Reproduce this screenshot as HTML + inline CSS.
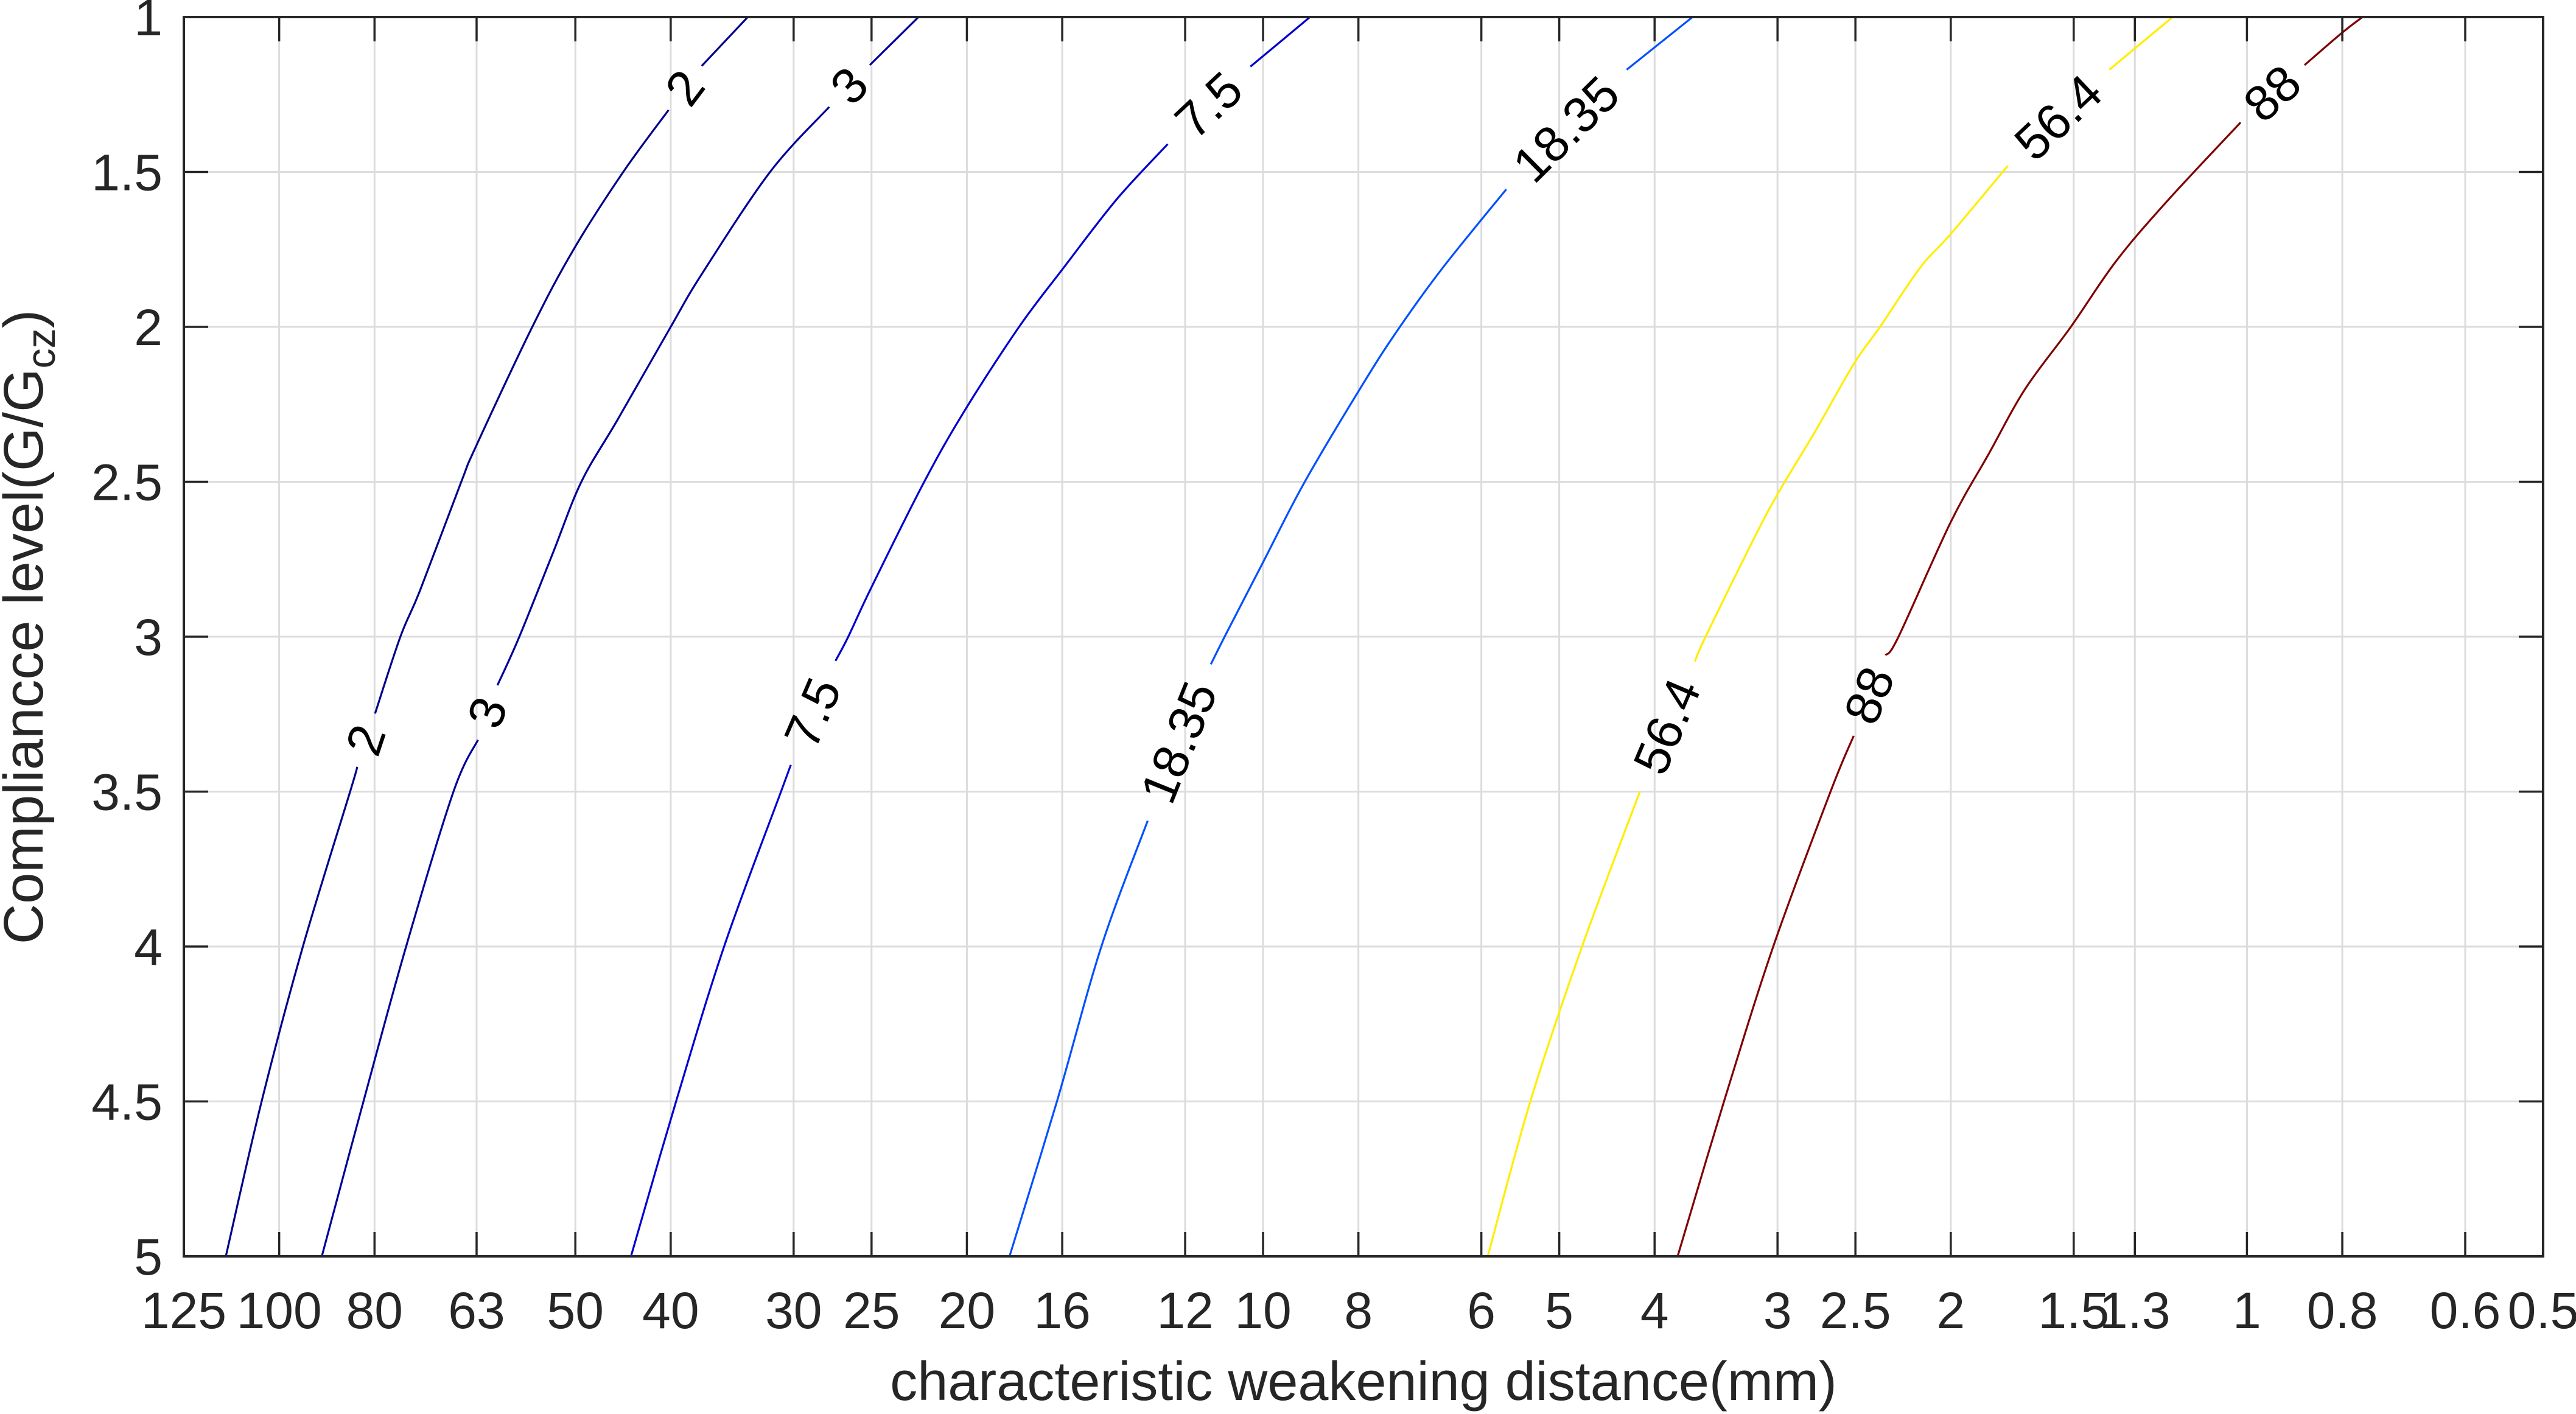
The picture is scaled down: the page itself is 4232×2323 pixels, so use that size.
<!DOCTYPE html>
<html><head><meta charset="utf-8">
<style>
html,body{margin:0;padding:0;background:#fff;}
svg{display:block;}
text{font-family:"Liberation Sans",Arial,sans-serif;fill:#262626;}
</style></head>
<body>
<svg id="chart" width="4232" height="2323" viewBox="0 0 4232 2323" xmlns="http://www.w3.org/2000/svg">
<rect x="0" y="0" width="4232" height="2323" fill="#fff"/>
<g id="grid"></g>
<g id="curves"></g>
<g id="labels"></g>
<g id="axes"></g>
<text x="2240" y="2300" font-size="90" text-anchor="middle">characteristic weakening distance(mm)</text>
<text transform="translate(70,1030) rotate(-90)" font-size="92" text-anchor="middle">Compliancce level(G/G<tspan font-size="66" dy="20">cz</tspan><tspan dy="-20">)</tspan></text>
</svg>
<script>
const xTicks = [125,100,80,63,50,40,30,25,20,16,12,10,8,6,5,4,3,2.5,2,1.5,1.3,1,0.8,0.6,0.5];
const xTickLabels = ["125","100","80","63","50","40","30","25","20","16","12","10","8","6","5","4","3","2.5","2","1.5","1.3","1","0.8","0.6","0.5"];
const yTicks = [1,1.5,2,2.5,3,3.5,4,4.5,5];
const yTickLabels = ["1","1.5","2","2.5","3","3.5","4","4.5","5"];
const levels = ["2","3","7.5","18.35","56.4","88"];
const levelColors = ["#00008a","#000099","#0000d0","#0050ff","#ffee00","#800000"];
// each curve: [G/Gcz, distance mm]; null = label gap
const curve2 = [[1,33.4],[1.158,37.2],null,[1.30,40.2],[1.5,44.7],[1.75,50.2],[2,55.3],[2.386,63.1],[2.5,65.3],[2.85,71.9],[3,75.3],[3.248,79.9],null,[3.42,83.3],[3.5,84.7],[4,94.6],[4.5,104.2],[5,113.3]];
const curve3 = [[1,22.4],[1.155,25.1],null,[1.29,27.6],[1.5,31.7],[1.83,37.2],[2,40.0],[2.30,45.3],[2.5,49.3],[2.73,52.7],[3,57.0],[3.157,60.0],null,[3.333,62.8],[3.5,66.5],[4,74.3],[4.5,82.1],[5,90.5]];
const curve7 = [[1,8.96],[1.16,10.3],null,[1.41,12.5],[1.59,14.1],[1.815,16.0],[2,17.7],[2.27,20.1],[2.5,22.1],[2.84,25.0],[3,26.4],[3.078,27.2],null,[3.414,30.2],[3.5,30.9],[4,35.3],[4.5,39.5],[5,43.9]];
const curve18 = [[1,3.66],[1.17,4.27],null,[1.556,5.66],[1.81,6.57],[2,7.26],[2.18,7.90],[2.5,9.07],[2.76,10.0],[2.99,10.9],[3.089,11.3],null,[3.594,13.1],[4,14.6],[4.5,16.2],[5,18.1]];
const curve56 = [[1,1.19],[1.17,1.38],null,[1.48,1.75],[1.70,2.00],[1.81,2.15],[2,2.36],[2.12,2.51],[2.34,2.75],[2.54,3.00],[2.70,3.19],[3,3.55],[3.08,3.64],null,[3.5,4.14],[4,4.74],[4.5,5.35],[5,5.91]];
const curve88 = [[1,0.763],[1.05,0.80],[1.155,0.874],null,[1.34,1.015],[1.60,1.21],[1.79,1.36],[2,1.51],[2.2,1.68],[2.41,1.83],[2.63,2.00],[3,2.26],[3.06,2.33],null,[3.32,2.51],[3.5,2.65],[4,3.03],[4.5,3.40],[5,3.79]];
const curves = [curve2,curve3,curve7,curve18,curve56,curve88];

const L=302,R=4178,T=28,B=2064;
const NS="http://www.w3.org/2000/svg";
const xMax=125,xMin=0.5;
function xs(mm){return L+(R-L)*Math.log(xMax/mm)/Math.log(xMax/xMin);}
function ys(v){return T+(v-1)/4*(B-T);}
function mk(tag,attrs,parent){const e=document.createElementNS(NS,tag);for(const k in attrs)e.setAttribute(k,attrs[k]);parent.appendChild(e);return e;}
const grid=document.getElementById('grid'),axes=document.getElementById('axes'),cg=document.getElementById('curves'),lg=document.getElementById('labels');

xTicks.forEach((t,i)=>{
  const x=xs(t);
  const g=mk('line',{x1:x,x2:x,y1:T,y2:B,stroke:'#dcdcdc','stroke-width':3},grid);
  
  
  const tb=mk('line',{x1:x,x2:x,y1:B,y2:B-40,stroke:'#262626','stroke-width':3.5},axes);
  
  
  const tt=mk('line',{x1:x,x2:x,y1:T,y2:T+40,stroke:'#262626','stroke-width':3.5},axes);
  
  
  const lb=mk('text',{x:x,y:2182,'font-size':84,'text-anchor':'middle'},axes);
  lb.textContent=xTickLabels[i];
  
  
});
yTicks.forEach((t,i)=>{
  const y=ys(t);
  const g=mk('line',{x1:L,x2:R,y1:y,y2:y,stroke:'#dcdcdc','stroke-width':3},grid);
  
  
  const tl=mk('line',{x1:L,x2:L+40,y1:y,y2:y,stroke:'#262626','stroke-width':3.5},axes);
  
  
  const tr=mk('line',{x1:R,x2:R-40,y1:y,y2:y,stroke:'#262626','stroke-width':3.5},axes);
  
  
  const lb=mk('text',{x:267,y:y+30,'font-size':84,'text-anchor':'end'},axes);
  lb.textContent=yTickLabels[i];
  
  
});
const box=mk('rect',{x:L,y:T,width:R-L,height:B-T,fill:'none',stroke:'#262626','stroke-width':4},axes);



function smoothPath(pts){
  if(pts.length<2)return '';
  let d='M'+pts[0][0].toFixed(1)+','+pts[0][1].toFixed(1);
  for(let i=0;i<pts.length-1;i++){
    const p0=pts[i-1]||pts[i],p1=pts[i],p2=pts[i+1],p3=pts[i+2]||p2;
    const c1x=p1[0]+(p2[0]-p0[0])/6,c1y=p1[1]+(p2[1]-p0[1])/6;
    const c2x=p2[0]-(p3[0]-p1[0])/6,c2y=p2[1]-(p3[1]-p1[1])/6;
    d+=' C'+c1x.toFixed(1)+','+c1y.toFixed(1)+' '+c2x.toFixed(1)+','+c2y.toFixed(1)+' '+p2[0].toFixed(1)+','+p2[1].toFixed(1);
  }
  return d;
}

curves.forEach((c,ci)=>{
  const segs=[[]];
  c.forEach(p=>{
    if(p===null){segs.push([]);return;}
    segs[segs.length-1].push([xs(p[1]),ys(p[0])]);
  });
  let d='';
  segs.forEach((s,si)=>{
    d+=smoothPath(s)+' ';
    if(si<segs.length-1){
      const a=s[s.length-1],b=segs[si+1][0];
      const cx=(a[0]+b[0])/2,cy=(a[1]+b[1])/2;
      let ang=Math.atan2(b[1]-a[1],b[0]-a[0])*180/Math.PI;
      if(ang>90)ang-=180; if(ang<-90)ang+=180;
      const t=mk('text',{x:cx,y:cy,'font-size':82,'text-anchor':'middle','dominant-baseline':'central',transform:`rotate(${ang} ${cx} ${cy})`},lg);
      t.style.fill='#000';
      t.textContent=levels[ci];
      
      
    }
  });
  const path=mk('path',{d:d,fill:'none',stroke:levelColors[ci],'stroke-width':3.2,'stroke-linejoin':'round'},cg);
  
  
});
</script>
</body></html>
